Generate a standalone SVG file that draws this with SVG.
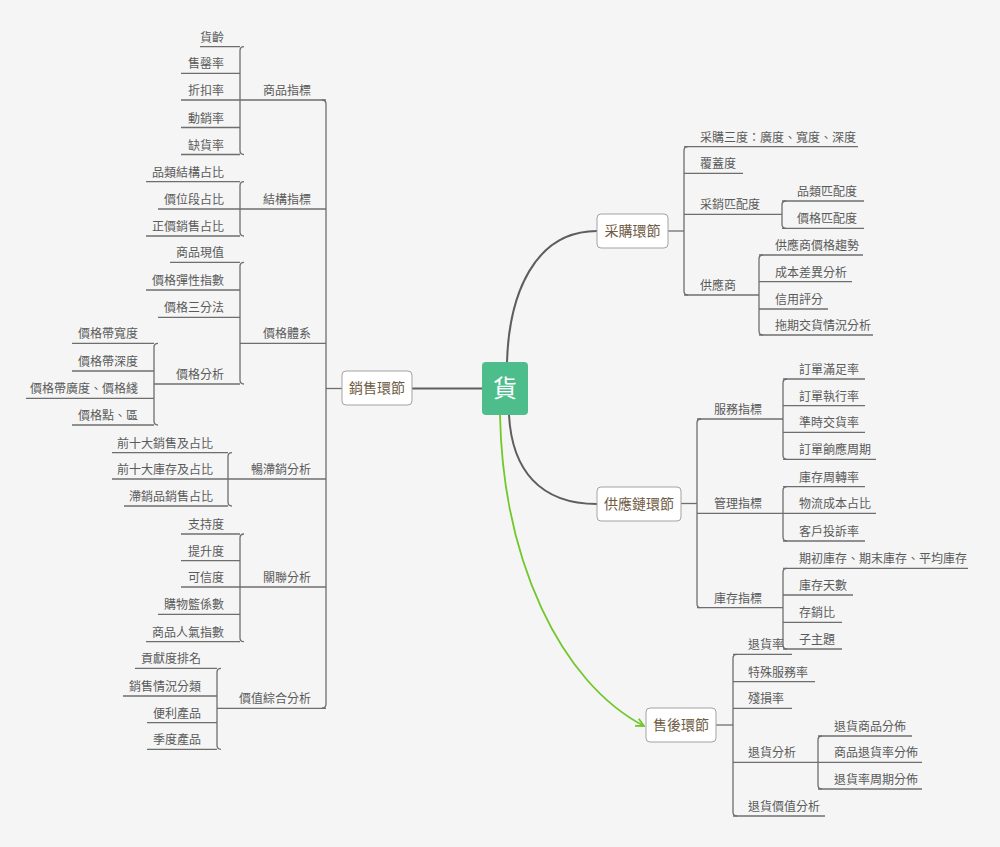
<svg xmlns="http://www.w3.org/2000/svg" width="1000" height="847" viewBox="0 0 1000 847">
<defs>
<style>
text{font-family:"Noto Sans CJK TC","Noto Sans CJK SC",sans-serif;}
.t{font-size:12px;fill:#5a5a5a;}
.l{text-anchor:end;}
.u{stroke:#6e6e6e;stroke-width:1.3;fill:none;}
.c{stroke:#6e6e6e;stroke-width:1.3;fill:none;}
.m{stroke:#5e5e5e;stroke-width:2;fill:none;}
.box{fill:#ffffff;stroke:#a3a3a3;stroke-width:1;}
.bt{font-size:14px;fill:#6f5a43;text-anchor:middle;}
</style>
<marker id="arr" viewBox="0 0 10 10" refX="9" refY="5" markerWidth="10" markerHeight="10" markerUnits="userSpaceOnUse" orient="auto">
<path d="M1,1 L9,5 L1,9" fill="none" stroke="#72c72b" stroke-width="1.8"/>
</marker>
</defs>
<rect width="1000" height="847" fill="#f5f5f5"/>

<g id="connectors">
<path class="m" d="M412,388.5 H482"/>
<path class="m" d="M507,362 C509,295 534,231 597,231"/>
<path class="m" d="M509,415 C512,470 540,504 597,504"/>
<path d="M500,415 C503,560 560,682 644,726" fill="none" stroke="#72c72b" stroke-width="1.8" marker-end="url(#arr)"/>
<!-- left trunk -->
<path class="c" d="M342,388.5 H326"/>
<path class="c" d="M322,100 Q326,100 326,104 V704 Q326,708 322,708"/>
<path class="c" d="M244,46.7 Q240,46.7 240,50.7 V150.5 Q240,154.5 244,154.5"/>
<path class="c" d="M244,181.7 Q240,181.7 240,185.7 V232 Q240,236 244,236"/>
<path class="c" d="M244,262.3 Q240,262.3 240,266.3 V380 Q240,384 244,384"/>
<path class="c" d="M158,343.3 Q154,343.3 154,347.3 V421 Q154,425 158,425"/>
<path class="c" d="M232,452.7 Q228,452.7 228,456.7 V502 Q228,506 232,506"/>
<path class="c" d="M244,534 Q240,534 240,538 V637.7 Q240,641.7 244,641.7"/>
<path class="c" d="M221,668.3 Q217,668.3 217,672.3 V745.3 Q217,749.3 221,749.3"/>
<!-- right -->
<path class="c" d="M668,231 H684"/>
<path class="c" d="M688,146.7 Q684,146.7 684,150.7 V291 Q684,295 688,295"/>
<path class="c" d="M786,201 Q782,201 782,205 V224.3 Q782,228.3 786,228.3"/>
<path class="c" d="M763,255 Q759,255 759,259 V331 Q759,335 763,335"/>
<path class="c" d="M681,503.5 H697"/>
<path class="c" d="M701,419 Q697,419 697,423 V603.7 Q697,607.7 701,607.7"/>
<path class="c" d="M787,379 Q783,379 783,383 V455.3 Q783,459.3 787,459.3"/>
<path class="c" d="M787,486.7 Q783,486.7 783,490.7 V537 Q783,541 787,541"/>
<path class="c" d="M787,568.3 Q783,568.3 783,572.3 V645 Q783,649 787,649"/>
<path class="c" d="M716,725 H733"/>
<path class="c" d="M737,654.3 Q733,654.3 733,658.3 V812 Q733,816 737,816"/>
<path class="c" d="M822,736 Q818,736 818,740 V785 Q818,789 822,789"/>
</g>

<g id="center"><rect x="482" y="362" width="46" height="53" rx="4" fill="#4dbe8b"/><text x="505" y="397" font-size="24" fill="#ffffff" text-anchor="middle">貨</text></g>

<g id="sales"><rect class="box" x="342" y="371" width="70" height="34" rx="4"/><text class="bt" x="377" y="393">銷售環節</text></g>
<g id="purchase"><rect class="box" x="597" y="214" width="71" height="34" rx="4"/><text class="bt" x="632.5" y="236">采購環節</text></g>
<g id="supply"><rect class="box" x="597" y="487" width="84" height="34" rx="4"/><text class="bt" x="639" y="509">供應鏈環節</text></g>
<g id="aftersale"><rect class="box" x="646" y="708" width="70" height="34" rx="4"/><text class="bt" x="681" y="730">售後環節</text></g>

<!-- left level 2 -->
<g id="n-spzb"><path class="u" d="M240,100 H326"/><text class="t l" x="311" y="95">商品指標</text></g>
<g id="n-jgzb"><path class="u" d="M240,209 H326"/><text class="t l" x="311" y="204">結構指標</text></g>
<g id="n-jgtx"><path class="u" d="M240,343.3 H326"/><text class="t l" x="311" y="338.3">價格體系</text></g>
<g id="n-czx"><path class="u" d="M228,479 H326"/><text class="t l" x="311" y="474">暢滯銷分析</text></g>
<g id="n-glfx"><path class="u" d="M240,587 H326"/><text class="t l" x="311" y="582">關聯分析</text></g>
<g id="n-jzzh"><path class="u" d="M217,708.3 H326"/><text class="t l" x="311" y="703.3">價值綜合分析</text></g>

<!-- 商品指標 leaves -->
<g id="n-hl"><path class="u" d="M200,46.7 H240"/><text class="t l" x="224" y="41.7">貨齡</text></g>
<g id="n-sql"><path class="u" d="M181,73.3 H240"/><text class="t l" x="224" y="68.3">售罄率</text></g>
<g id="n-zkl"><path class="u" d="M181,100 H240"/><text class="t l" x="224" y="95">折扣率</text></g>
<g id="n-dxl"><path class="u" d="M181,127.5 H240"/><text class="t l" x="224" y="122.5">動銷率</text></g>
<g id="n-qhl"><path class="u" d="M181,154.5 H240"/><text class="t l" x="224" y="149.5">缺貨率</text></g>
<!-- 結構指標 leaves -->
<g id="n-plj"><path class="u" d="M146,181.7 H240"/><text class="t l" x="224" y="176.7">品類結構占比</text></g>
<g id="n-jwd"><path class="u" d="M158,209 H240"/><text class="t l" x="224" y="204">價位段占比</text></g>
<g id="n-zjx"><path class="u" d="M146,236 H240"/><text class="t l" x="224" y="231">正價銷售占比</text></g>
<!-- 價格體系 leaves -->
<g id="n-spxz"><path class="u" d="M170,262.3 H240"/><text class="t l" x="224" y="257.3">商品現值</text></g>
<g id="n-jgtx2"><path class="u" d="M146,290 H240"/><text class="t l" x="224" y="285">價格彈性指數</text></g>
<g id="n-jgsf"><path class="u" d="M158,317.3 H240"/><text class="t l" x="224" y="312.3">價格三分法</text></g>
<g id="n-jgfx"><path class="u" d="M154,384 H240"/><text class="t l" x="224" y="379">價格分析</text></g>
<g id="n-jdkd"><path class="u" d="M72,343.3 H154"/><text class="t l" x="138" y="338.3">價格帶寬度</text></g>
<g id="n-jdsd"><path class="u" d="M72,371 H154"/><text class="t l" x="138" y="366">價格帶深度</text></g>
<g id="n-jdgd"><path class="u" d="M26,398.3 H154"/><text class="t l" x="138" y="393.3">價格帶廣度、價格綫</text></g>
<g id="n-jgd"><path class="u" d="M72,425 H154"/><text class="t l" x="138" y="420">價格點、區</text></g>
<!-- 暢滯銷 leaves -->
<g id="n-qsx"><path class="u" d="M112,452.7 H228"/><text class="t l" x="213" y="447.7">前十大銷售及占比</text></g>
<g id="n-qkc"><path class="u" d="M112,479 H228"/><text class="t l" x="213" y="474">前十大庫存及占比</text></g>
<g id="n-zxp"><path class="u" d="M124,506 H228"/><text class="t l" x="213" y="501">滯銷品銷售占比</text></g>
<!-- 關聯分析 leaves -->
<g id="n-zcd"><path class="u" d="M181,534 H240"/><text class="t l" x="224" y="529">支持度</text></g>
<g id="n-tsd"><path class="u" d="M181,560.7 H240"/><text class="t l" x="224" y="555.7">提升度</text></g>
<g id="n-kxd"><path class="u" d="M181,587 H240"/><text class="t l" x="224" y="582">可信度</text></g>
<g id="n-gwl"><path class="u" d="M158,614.3 H240"/><text class="t l" x="224" y="609.3">購物籃係數</text></g>
<g id="n-sprq"><path class="u" d="M146,641.7 H240"/><text class="t l" x="224" y="636.7">商品人氣指數</text></g>
<!-- 價值綜合分析 leaves -->
<g id="n-gxd"><path class="u" d="M135,668.3 H217"/><text class="t l" x="201" y="663.3">貢獻度排名</text></g>
<g id="n-xsqk"><path class="u" d="M123,696 H217"/><text class="t l" x="201" y="691">銷售情況分類</text></g>
<g id="n-blcp"><path class="u" d="M147,722.7 H217"/><text class="t l" x="201" y="717.7">便利產品</text></g>
<g id="n-jdcp"><path class="u" d="M147,749.3 H217"/><text class="t l" x="201" y="744.3">季度產品</text></g>

<!-- 采購環節 -->
<g id="n-cgsd"><path class="u" d="M684,146.7 H858"/><text class="t" x="700" y="141.7">采購三度：廣度、寬度、深度</text></g>
<g id="n-fgd"><path class="u" d="M684,173.3 H743"/><text class="t" x="700" y="168.3">覆蓋度</text></g>
<g id="n-cxpp"><path class="u" d="M684,214.3 H782"/><text class="t" x="700" y="209.3">采銷匹配度</text></g>
<g id="n-gys"><path class="u" d="M684,295 H759"/><text class="t" x="700" y="290">供應商</text></g>
<g id="n-plpp"><path class="u" d="M782,201 H864"/><text class="t" x="797" y="196">品類匹配度</text></g>
<g id="n-jgpp"><path class="u" d="M782,228.3 H864"/><text class="t" x="797" y="223.3">價格匹配度</text></g>
<g id="n-gysjg"><path class="u" d="M759,255 H863"/><text class="t" x="775" y="250">供應商價格趨勢</text></g>
<g id="n-cbcy"><path class="u" d="M759,281.7 H852"/><text class="t" x="775" y="276.7">成本差異分析</text></g>
<g id="n-xypf"><path class="u" d="M759,309 H828"/><text class="t" x="775" y="304">信用評分</text></g>
<g id="n-tqjh"><path class="u" d="M759,335 H873"/><text class="t" x="775" y="330">拖期交貨情況分析</text></g>

<!-- 供應鏈環節 -->
<g id="n-fwzb"><path class="u" d="M697,419 H783"/><text class="t" x="714" y="414">服務指標</text></g>
<g id="n-glzb"><path class="u" d="M697,513.3 H783"/><text class="t" x="714" y="508.3">管理指標</text></g>
<g id="n-kczb"><path class="u" d="M697,607.7 H783"/><text class="t" x="714" y="602.7">庫存指標</text></g>
<g id="n-ddmz"><path class="u" d="M783,379 H865"/><text class="t" x="799" y="374">訂單滿足率</text></g>
<g id="n-ddzx"><path class="u" d="M783,405.7 H865"/><text class="t" x="799" y="400.7">訂單執行率</text></g>
<g id="n-zsjh"><path class="u" d="M783,432.3 H865"/><text class="t" x="799" y="427.3">準時交貨率</text></g>
<g id="n-ddxy"><path class="u" d="M783,459.3 H876"/><text class="t" x="799" y="454.3">訂單餉應周期</text></g>
<g id="n-kczz"><path class="u" d="M783,486.7 H865"/><text class="t" x="799" y="481.7">庫存周轉率</text></g>
<g id="n-wlcb"><path class="u" d="M783,513.3 H876"/><text class="t" x="799" y="508.3">物流成本占比</text></g>
<g id="n-khts"><path class="u" d="M783,541 H865"/><text class="t" x="799" y="536">客戶投訴率</text></g>
<g id="n-qckc"><path class="u" d="M783,568.3 H968"/><text class="t" x="799" y="563.3">期初庫存、期末庫存、平均庫存</text></g>
<g id="n-kcts"><path class="u" d="M783,595 H853"/><text class="t" x="799" y="590">庫存天數</text></g>
<g id="n-cxb"><path class="u" d="M783,622.3 H842"/><text class="t" x="799" y="617.3">存銷比</text></g>
<g id="n-zzt"><path class="u" d="M783,649 H842"/><text class="t" x="799" y="644">子主題</text></g>

<!-- 售後環節 -->
<g id="n-thl"><path class="u" d="M733,654.3 H792"/><text class="t" x="748" y="649.3">退貨率</text></g>
<g id="n-tsfw"><path class="u" d="M733,681.7 H815"/><text class="t" x="748" y="676.7">特殊服務率</text></g>
<g id="n-csl"><path class="u" d="M733,708.3 H792"/><text class="t" x="748" y="703.3">殘損率</text></g>
<g id="n-thfx"><path class="u" d="M733,762.3 H818"/><text class="t" x="748" y="757.3">退貨分析</text></g>
<g id="n-thjz"><path class="u" d="M733,816 H825"/><text class="t" x="748" y="811">退貨價值分析</text></g>
<g id="n-thsp"><path class="u" d="M818,736 H912"/><text class="t" x="834" y="731">退貨商品分佈</text></g>
<g id="n-spth"><path class="u" d="M818,762.3 H922"/><text class="t" x="834" y="757.3">商品退貨率分佈</text></g>
<g id="n-thzq"><path class="u" d="M818,789 H922"/><text class="t" x="834" y="784">退貨率周期分佈</text></g>
</svg>
